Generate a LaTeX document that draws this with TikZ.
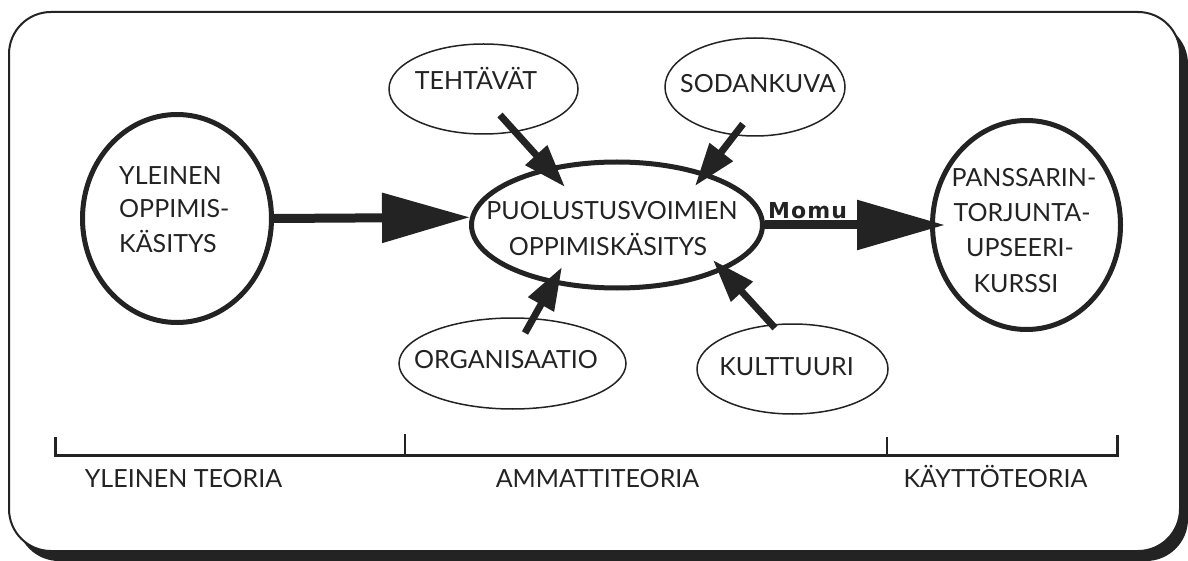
\documentclass[tikz,border=0pt]{standalone}
\usepackage{fontspec}
\setmainfont{Lato}
\newfontfamily\momufont{DejaVu Sans}[LetterSpace=5]
\usetikzlibrary{arrows.meta,shapes.geometric}
\definecolor{ink}{RGB}{35,35,35}
\begin{document}
\begin{tikzpicture}[x=1pt,y=-1pt,color=ink,
  txt/.style={font=\fontsize{25}{29}\selectfont, inner sep=0pt, anchor=base},
  txtl/.style={txt, anchor=base west},
  bigell/.style={ellipse, draw, line width=5pt, inner sep=0pt},
  smallell/.style={ellipse, draw, line width=1.5pt, inner sep=0pt},
  bigarrow/.style={line width=9pt, -{Triangle[length=88pt,width=48pt]}},
  smallarrow/.style={line width=7pt, -{Triangle[length=43pt,width=28pt]}},
  scaleline/.style={line width=3pt},
  tickline/.style={line width=2pt}]
\useasboundingbox (0,0) rectangle (1188,561);
% frame with shadow
\fill[rounded corners=42pt] (17,22) rectangle (1188,561);
\draw[line width=2pt, fill=white, rounded corners=42pt] (9,12) rectangle (1180,551);

% main ellipses
\node[bigell, minimum width=189pt, minimum height=208pt] (yle) at (177,218.5) {};
\node[bigell, minimum width=291pt, minimum height=126pt] (puol) at (617,225) {};
\node[bigell, minimum width=188pt, minimum height=209pt] (pans) at (1026.5,225) {};
% small ellipses
\node[smallell, minimum width=189pt, minimum height=90pt] (teh) at (483.5,89) {};
\node[smallell, minimum width=180pt, minimum height=98pt] (sod) at (755,87) {};
\node[smallell, minimum width=227pt, minimum height=91pt] (org) at (512.5,363.5) {};
\node[smallell, minimum width=191pt, minimum height=90pt] (kul) at (792.5,369) {};

% texts
\node[txtl] (yle1) at (119,185) {YLEINEN};
\node[txtl] (yle2) at (119,218) {OPPIMIS-};
\node[txtl] (yle3) at (119,253) {KÄSITYS};
\node[txt] (puol1) at (612,220) {PUOLUSTUSVOIMIEN};
\node[txt] (puol2) at (608,256) {OPPIMISKÄSITYS};
\node[txt] (pans1) at (1024,187) {PANSSARIN-};
\node[txt] (pans2) at (1022,222) {TORJUNTA-};
\node[txt] (pans3) at (1020,257) {UPSEERI-};
\node[txt] (pans4) at (1016,292) {KURSSI};
\node[txt] (tehT) at (476,90) {TEHTÄVÄT};
\node[txt] (sodT) at (758,93) {SODANKUVA};
\node[txt] (orgT) at (506,368) {ORGANISAATIO};
\node[txt] (kulT) at (786.5,375) {KULTTUURI};
\node[txt] (lab1) at (183.5,487) {YLEINEN TEORIA};
\node[txt] (lab2) at (597.5,487) {AMMATTITEORIA};
\node[txt] (lab3) at (995.5,487) {KÄYTTÖTEORIA};

% main arrows
\draw[bigarrow] (yle.east) -- (puol.177);
\draw[bigarrow, shorten >=-15pt] (puol.east) -- (pans.west);
\node[inner sep=0pt, anchor=base west, font=\momufont\bfseries\fontsize{22}{26}\selectfont] (momu) at (768,219) {Momu};

% small arrows
\coordinate (tehA) at (500,115); \coordinate (tehB) at (565,187);
\coordinate (sodA) at (743,124); \coordinate (sodB) at (695,186);
\coordinate (orgA) at (525,333); \coordinate (orgB) at (562,267);
\coordinate (kulA) at (775,328); \coordinate (kulB) at (713,260);
\draw[smallarrow] (tehA) -- (tehB);
\draw[smallarrow] (sodA) -- (sodB);
\draw[smallarrow] (orgA) -- (orgB);
\draw[smallarrow] (kulA) -- (kulB);

% scale
\coordinate (s0) at (55,455); \coordinate (s1) at (405,455);
\coordinate (s2) at (887,455); \coordinate (s3) at (1117,455);
\draw[scaleline] (55,437) -- (s0) -- (s3) -- (1117,435);
\draw[tickline] (s1) -- ++(0,-21);
\draw[tickline] (s2) -- ++(0,-18);
\end{tikzpicture}
\end{document}
